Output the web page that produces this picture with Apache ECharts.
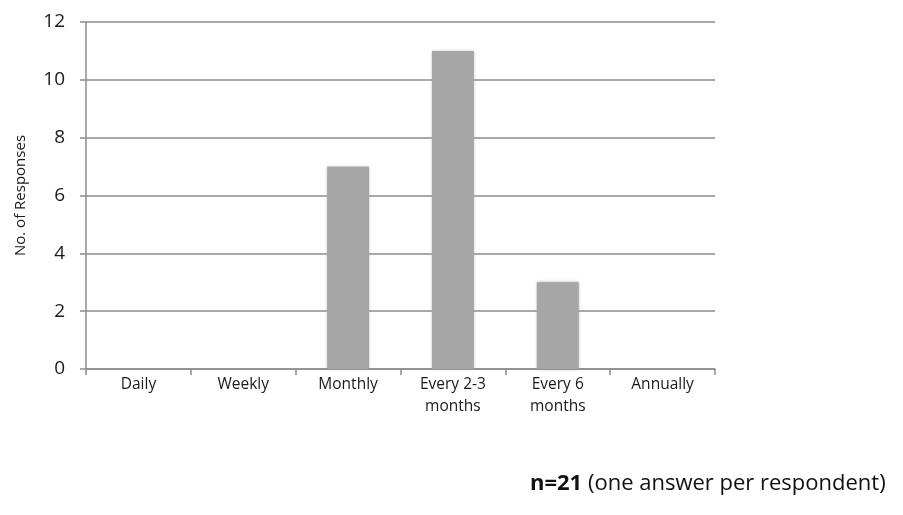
<!DOCTYPE html>
<html><head><meta charset="utf-8">
<script src="https://cdn.jsdelivr.net/npm/echarts@6/dist/echarts.min.js"></script>
<style>html,body{margin:0;padding:0;background:#fff}#c{width:903px;height:515px}</style>
</head><body><div id="c"></div>
<script>
const categories = ['Daily', 'Weekly', 'Monthly', 'Every 2-3\nmonths', 'Every 6\nmonths', 'Annually'];
const responses = [0, 0, 7, 11, 3, 0];
const yTicks = [0, 2, 4, 6, 8, 10, 12];
const yTitle = 'No. of Responses';
const noteBold = 'n=21';
const noteRest = ' (one answer per respondent)';

const chart = echarts.init(document.getElementById('c'));
const font = '"Open Sans", "Liberation Sans", sans-serif';
chart.setOption({
  animation: false,
  grid: { left: 86, right: 188, top: 22, bottom: 146 },
  xAxis: {
    type: 'category', data: categories,
    axisLine: { lineStyle: { color: '#8c8c8c', width: 1.5 } },
    axisTick: { show: true, length: 6, alignWithLabel: false, lineStyle: { color: '#8c8c8c', width: 1.5 } },
    axisLabel: { color: '#1a1a1a', fontFamily: font, fontSize: 15.5, margin: 5, lineHeight: 22, interval: 0 }
  },
  yAxis: {
    type: 'value', min: yTicks[0], max: yTicks[yTicks.length - 1], interval: 2,
    name: yTitle, nameLocation: 'middle', nameGap: 58, nameRotate: 90,
    nameTextStyle: { color: '#1a1a1a', fontFamily: font, fontSize: 15 },
    axisLine: { show: true, lineStyle: { color: '#8c8c8c', width: 1.5 } },
    axisTick: { show: true, length: 6, lineStyle: { color: '#8c8c8c', width: 1.5 } },
    axisLabel: { color: '#1a1a1a', fontFamily: font, fontSize: 19, margin: 21 },
    splitLine: { lineStyle: { color: '#8c8c8c', width: 1.5 } }
  },
  series: [{
    type: 'bar', data: responses, barWidth: '40%',
    itemStyle: { color: '#a6a6a6', shadowColor: 'rgba(150,150,150,0.8)', shadowBlur: 3 }
  }],
  graphic: [{
    type: 'text', left: 530, top: 473,
    style: {
      rich: {
        b: { fontFamily: font, fontSize: 22, fontWeight: 'bold', fill: '#111' },
        n: { fontFamily: font, fontSize: 22, fill: '#111' }
      },
      text: '{b|' + noteBold + '}{n|' + noteRest + '}'
    }
  }]
});
</script></body></html>
